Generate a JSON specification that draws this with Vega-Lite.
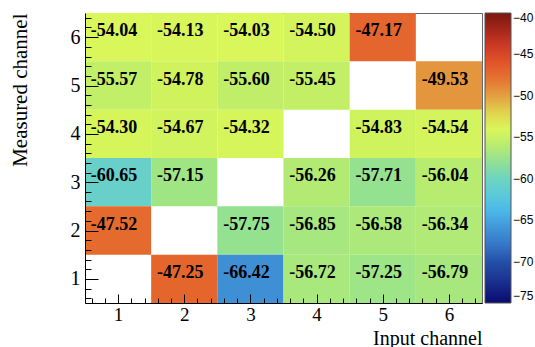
{
  "$schema": "https://vega.github.io/schema/vega-lite/v6.json",
  "width": 397,
  "height": 290,
  "autosize": {"type": "none"},
  "padding": {"left": 85, "top": 13, "right": 53, "bottom": 44},
  "background": "white",
  "config": {
    "view": {"stroke": "#666", "strokeWidth": 1},
    "axis": {"domainColor": "black", "tickColor": "black", "labelColor": "black", "titleColor": "black", "grid": false}
  },
  "data": {"values": [
    {"input": 1, "measured": 6, "v": -54.04}, {"input": 2, "measured": 6, "v": -54.13}, {"input": 3, "measured": 6, "v": -54.03}, {"input": 4, "measured": 6, "v": -54.50}, {"input": 5, "measured": 6, "v": -47.17},
    {"input": 1, "measured": 5, "v": -55.57}, {"input": 2, "measured": 5, "v": -54.78}, {"input": 3, "measured": 5, "v": -55.60}, {"input": 4, "measured": 5, "v": -55.45}, {"input": 6, "measured": 5, "v": -49.53},
    {"input": 1, "measured": 4, "v": -54.30}, {"input": 2, "measured": 4, "v": -54.67}, {"input": 3, "measured": 4, "v": -54.32}, {"input": 5, "measured": 4, "v": -54.83}, {"input": 6, "measured": 4, "v": -54.54},
    {"input": 1, "measured": 3, "v": -60.65}, {"input": 2, "measured": 3, "v": -57.15}, {"input": 4, "measured": 3, "v": -56.26}, {"input": 5, "measured": 3, "v": -57.71}, {"input": 6, "measured": 3, "v": -56.04},
    {"input": 1, "measured": 2, "v": -47.52}, {"input": 3, "measured": 2, "v": -57.75}, {"input": 4, "measured": 2, "v": -56.85}, {"input": 5, "measured": 2, "v": -56.58}, {"input": 6, "measured": 2, "v": -56.34},
    {"input": 2, "measured": 1, "v": -47.25}, {"input": 3, "measured": 1, "v": -66.42}, {"input": 4, "measured": 1, "v": -56.72}, {"input": 5, "measured": 1, "v": -57.25}, {"input": 6, "measured": 1, "v": -56.79}
  ]},
  "layer": [
    {
      "encoding": {
        "x": {"field": "input", "type": "ordinal", "axis": null, "scale": {"domain": [1, 2, 3, 4, 5, 6], "paddingInner": 0, "paddingOuter": 0}},
        "y": {"field": "measured", "type": "ordinal", "axis": null, "scale": {"domain": [6, 5, 4, 3, 2, 1], "paddingInner": 0, "paddingOuter": 0}}
      },
      "layer": [
        {
          "mark": {"type": "rect"},
          "encoding": {
            "color": {
              "field": "v", "type": "quantitative",
              "scale": {
                "domain": [-75, -72.5, -70, -67.5, -65, -63.5, -60, -57.5, -55, -53.5, -50, -47.5, -45, -42.5, -40],
                "range": ["#0a0a6e", "#1a2f8e", "#2350a8", "#3a80cf", "#45a2de", "#4cc0ee", "#6ed4c0", "#98e38a", "#cdf25e", "#e0f858", "#e2a040", "#e56a2e", "#e04628", "#b02a1e", "#7a1810"],
                "interpolate": "rgb"
              },
              "legend": {
                "orient": "none", "legendX": 400, "legendY": 0, "direction": "vertical",
                "title": null, "gradientLength": 290, "gradientThickness": 26,
                "gradientStrokeColor": "#555", "gradientStrokeWidth": 1,
                "values": [-75, -70, -65, -60, -55, -50, -45, -40],
                "labelFont": "Liberation Sans", "labelFontSize": 12, "labelColor": "black",
                "labelOffset": 2, "labelOverlap": false
              }
            }
          }
        },
        {
          "transform": [{"calculate": "replace(format(datum.v, '.2f'), '\u2212', '-')", "as": "label"}],
          "mark": {"type": "text", "font": "Liberation Serif", "fontWeight": "bold", "fontSize": 18, "color": "black", "dx": -4, "dy": -6},
          "encoding": {"text": {"field": "label", "type": "nominal"}}
        }
      ]
    },
    {
      "mark": {"type": "point", "opacity": 0},
      "encoding": {
        "x": {
          "field": "input", "type": "quantitative",
          "scale": {"domain": [0.5, 6.5], "nice": false, "zero": false},
          "axis": {
            "orient": "bottom", "title": "Input channel", "titleAnchor": "end", "zindex": 1,
            "titleFont": "Liberation Serif", "titleFontSize": 20, "titleFontWeight": "normal", "titlePadding": 0,
            "values": [0.6, 0.8, 1, 1.2, 1.4, 1.6, 1.8, 2, 2.2, 2.4, 2.6, 2.8, 3, 3.2, 3.4, 3.6, 3.8, 4, 4.2, 4.4, 4.6, 4.8, 5, 5.2, 5.4, 5.6, 5.8, 6, 6.2, 6.4],
            "labelExpr": "abs(datum.value - round(datum.value)) < 0.01 ? format(datum.value, 'd') : ''",
            "labelFont": "Liberation Serif", "labelFontSize": 19, "labelOverlap": false, "labelFlush": false,
            "tickSize": {"condition": {"test": "abs(datum.value - round(datum.value)) < 0.01", "value": -9}, "value": -5},
            "labelPadding": 11
          }
        },
        "y": {
          "field": "measured", "type": "quantitative",
          "scale": {"domain": [0.5, 6.5], "nice": false, "zero": false},
          "axis": {
            "orient": "left", "title": "Measured channel", "titleAnchor": "end", "zindex": 1,
            "titleFont": "Liberation Serif", "titleFontSize": 21, "titleFontWeight": "normal", "titlePadding": 40,
            "values": [0.6, 0.8, 1, 1.2, 1.4, 1.6, 1.8, 2, 2.2, 2.4, 2.6, 2.8, 3, 3.2, 3.4, 3.6, 3.8, 4, 4.2, 4.4, 4.6, 4.8, 5, 5.2, 5.4, 5.6, 5.8, 6, 6.2, 6.4],
            "labelExpr": "abs(datum.value - round(datum.value)) < 0.01 ? format(datum.value, 'd') : ''",
            "labelFont": "Liberation Serif", "labelFontSize": 20, "labelOverlap": false, "labelFlush": false,
            "tickSize": {"condition": {"test": "abs(datum.value - round(datum.value)) < 0.01", "value": -13}, "value": -6},
            "labelPadding": 18
          }
        }
      }
    }
  ],
  "resolve": {"scale": {"x": "independent", "y": "independent"}, "axis": {"x": "independent", "y": "independent"}}
}
